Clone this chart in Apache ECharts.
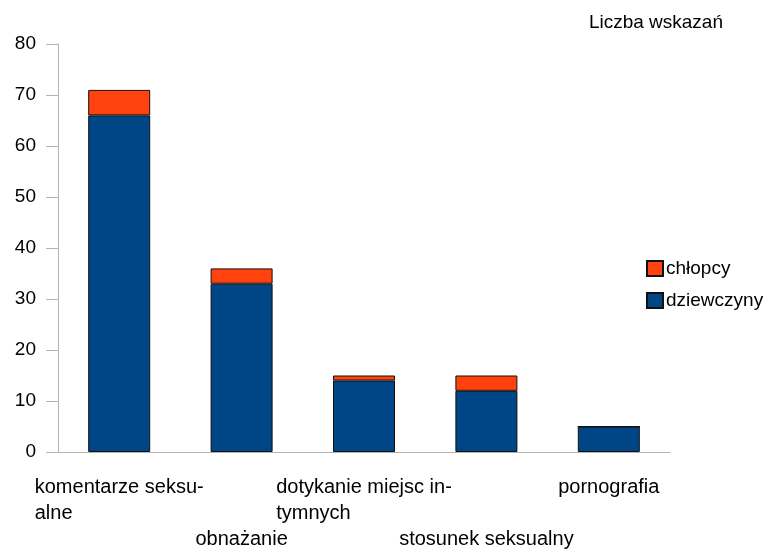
<!DOCTYPE html>
<html>
<head>
<meta charset="utf-8">
<script src="https://cdn.jsdelivr.net/npm/echarts@6/dist/echarts.min.js"></script>
<style>
  html, body { margin: 0; padding: 0; background: #fff; }
  #chart { width: 772px; height: 552px; }
</style>
</head>
<body>
<div id="chart"></div>
<script>
// categories as printed under the axis (hyphenated wraps kept)
const categories = [
  'komentarze seksu-\nalne',
  'obnażanie',
  'dotykanie miejsc in-\ntymnych',
  'stosunek seksualny',
  'pornografia'
]
const dziewczyny = [66, 33, 14, 12, 5]
const chlopcy = [5, 3, 1, 3, 0]
const yTicks = { min: 0, max: 80, interval: 10 }

const FONT = '"Liberation Sans", Arial, sans-serif'

const chart = echarts.init(document.getElementById('chart'), null, { renderer: 'canvas' })

chart.setOption({
  backgroundColor: '#fff',
  animation: false,
  title: {
    text: 'Liczba wskazań',
    right: 44,
    top: 8,
    textStyle: { fontFamily: FONT, fontSize: 19, fontWeight: 'normal', color: '#000' }
  },
  legend: {
    data: ['chłopcy', 'dziewczyny'],
    orient: 'vertical',
    left: 641,
    top: 254,
    itemWidth: 16,
    itemHeight: 15,
    itemGap: 13,
    icon: 'rect',
    textStyle: { fontFamily: FONT, fontSize: 19, color: '#000', padding: [0, 0, 0, -2] }
  },
  grid: { left: 58, right: 102, top: 44, bottom: 99 },
  xAxis: {
    type: 'category',
    data: categories,
    axisLine: { lineStyle: { color: '#b3b3b3', width: 1 } },
    axisTick: { alignWithLabel: true, length: 10, lineStyle: { color: '#b3b3b3' } },
    axisLabel: {
      interval: 0,
      margin: 22,
      lineHeight: 26,
      fontFamily: FONT,
      fontSize: 20,
      color: '#000',
      formatter: (value, idx) => {
        const lines = value.split('\n').map(s => '{a|' + s + '}')
        const pre = idx % 2 === 1 ? '{a| }\n{a| }\n' : ''
        return pre + lines.join('\n')
      },
      rich: {
        a: { align: 'left', fontFamily: FONT, fontSize: 20, lineHeight: 26, color: '#000' }
      }
    },
    splitLine: { show: false }
  },
  yAxis: {
    type: 'value',
    min: yTicks.min,
    max: yTicks.max,
    interval: yTicks.interval,
    axisLine: { show: true, lineStyle: { color: '#b3b3b3', width: 1 } },
    axisTick: { show: true, length: 12, lineStyle: { color: '#b3b3b3' } },
    axisLabel: { margin: 22, fontFamily: FONT, fontSize: 19, color: '#000' },
    splitLine: { show: false }
  },
  series: [
    {
      name: 'dziewczyny',
      type: 'bar',
      stack: 'total',
      data: dziewczyny,
      barWidth: 62,
      itemStyle: { color: '#004586', borderColor: '#111', borderWidth: 1 }
    },
    {
      name: 'chłopcy',
      type: 'bar',
      stack: 'total',
      data: chlopcy,
      barWidth: 62,
      itemStyle: { color: '#ff420e', borderColor: '#111', borderWidth: 1 }
    }
  ]
})
</script>
</body>
</html>
